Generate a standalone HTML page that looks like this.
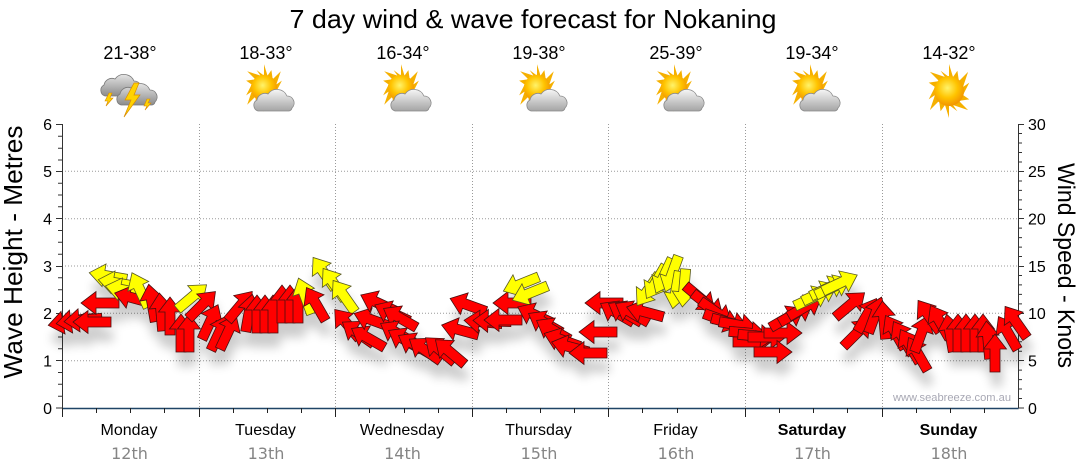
<!DOCTYPE html>
<html><head><meta charset="utf-8"><style>
html,body{margin:0;padding:0;background:#fff}
svg{display:block}
.r{fill:#ff0000;stroke:#4a1010;stroke-width:.8}
.y{fill:#ffff00;stroke:#5a5a20;stroke-width:.8}
.t{font-family:"Liberation Sans",Arial,sans-serif}
.d{font-family:"DejaVu Sans","Liberation Sans",sans-serif}
</style></head><body>
<svg width="1080" height="475" viewBox="0 0 1080 475" xmlns="http://www.w3.org/2000/svg">
<defs>
<path id="a" d="M-19,-5 L4,-5 L4,-11.5 L19,0 L4,11.5 L4,5 L-19,5 Z"/>
<filter id="sh" filterUnits="userSpaceOnUse" x="0" y="200" width="1080" height="260">
<feGaussianBlur in="SourceAlpha" stdDeviation="5"/>
<feOffset dx="2" dy="14"/>
<feComponentTransfer><feFuncA type="linear" slope="0.2"/></feComponentTransfer>
<feMerge><feMergeNode/><feMergeNode in="SourceGraphic"/></feMerge>
</filter>
<radialGradient id="sg" cx="45%" cy="40%" r="60%">
<stop offset="0" stop-color="#fff36a"/><stop offset=".55" stop-color="#ffc400"/><stop offset="1" stop-color="#f29400"/>
</radialGradient>
<linearGradient id="cg" x1="0" y1="0" x2="0" y2="1">
<stop offset="0" stop-color="#f6f6f6"/><stop offset="1" stop-color="#a4a4a4"/>
</linearGradient>
<linearGradient id="cg2" x1="0" y1="0" x2="0" y2="1">
<stop offset="0" stop-color="#e4e4e4"/><stop offset="1" stop-color="#8c8c8c"/>
</linearGradient>
<g id="sun">
<polygon fill="#f5b000" points="0,-27 4,-14 8.4,-20.3 9.9,-9.9 19.1,-19.1 14,-4 20.3,-8.4 14,4 27,0 14,4 20.3,8.4 9.9,9.9 19.1,19.1 4,14 8.4,20.3 0,14 0,27 -4,14 -8.4,20.3 -9.9,9.9 -19.1,19.1 -14,4 -20.3,8.4 -14,-4 -27,0 -14,-4 -20.3,-8.4 -9.9,-9.9 -19.1,-19.1 -4,-14 -8.4,-20.3 0,-14"/>
<circle r="15" fill="url(#sg)"/>
</g>
<path id="cl" d="M4,25 A6,6 0 0 1 3,14 A8,8 0 0 1 14,8 A11,11 0 0 1 33,10 A7,7 0 0 1 38,22 A4,4 0 0 1 35,25 Z"/>
<g id="sc">
<use href="#sun" transform="translate(-3,88) scale(0.88)"/>
<use href="#cl" transform="translate(-13,86)" fill="url(#cg)" stroke="#8a8a8a" stroke-width=".8"/>
</g>
</defs>
<rect width="1080" height="475" fill="#fff"/>

<!-- title -->
<text class="t" x="533" y="28" font-size="26" text-anchor="middle" textLength="487" lengthAdjust="spacingAndGlyphs" fill="#000">7 day wind &amp; wave forecast for Nokaning</text>

<!-- temps -->
<g class="t" font-size="18" text-anchor="middle" fill="#000">
<text x="130" y="59">21-38°</text>
<text x="266" y="59">18-33°</text>
<text x="403" y="59">16-34°</text>
<text x="539" y="59">19-38°</text>
<text x="676" y="59">25-39°</text>
<text x="812" y="59">19-34°</text>
<text x="949" y="59">14-32°</text>
</g>

<!-- icons -->
<g>
<use href="#cl" transform="translate(101,71)" fill="url(#cg2)" stroke="#7a7a7a" stroke-width=".8"/>
<polygon points="109,93 105,101 108,101 106,106 113,98 110,98 112,93" fill="#ffd200" stroke="#d98c00" stroke-width=".6"/>
<use href="#cl" transform="translate(117,80)" fill="url(#cg2)" stroke="#7a7a7a" stroke-width=".8"/>
<polygon points="134,83 125,100 131,100 124,117 140,95 134,95 139,83" fill="#ffd200" stroke="#d98c00" stroke-width=".7"/>
<polygon points="147,99 144,106 147,106 145,110 151,103 148,103 150,99" fill="#ffd200" stroke="#d98c00" stroke-width=".6"/>
</g>
<use href="#sc" transform="translate(267,0)"/>
<use href="#sc" transform="translate(404,0)"/>
<use href="#sc" transform="translate(540,0)"/>
<use href="#sc" transform="translate(677,0)"/>
<use href="#sc" transform="translate(813,0)"/>
<use href="#sun" transform="translate(949,91)"/>

<!-- grid -->
<g stroke="#9a9a9a" stroke-width="1" stroke-dasharray="1 2" fill="none">
<line x1="62" y1="360.7" x2="1018" y2="360.7"/>
<line x1="62" y1="313.3" x2="1018" y2="313.3"/>
<line x1="62" y1="266" x2="1018" y2="266"/>
<line x1="62" y1="218.7" x2="1018" y2="218.7"/>
<line x1="62" y1="171.3" x2="1018" y2="171.3"/>
<line x1="199.5" y1="124" x2="199.5" y2="408"/>
<line x1="335.5" y1="124" x2="335.5" y2="408"/>
<line x1="472.5" y1="124" x2="472.5" y2="408"/>
<line x1="608.5" y1="124" x2="608.5" y2="408"/>
<line x1="745.5" y1="124" x2="745.5" y2="408"/>
<line x1="882.5" y1="124" x2="882.5" y2="408"/>
</g>

<!-- left axis -->
<g stroke="#333" stroke-width="1">
<line x1="62.5" y1="124" x2="62.5" y2="408"/>
<path d="M56,124.5H62M56,171.5H62M56,218.5H62M56,266.5H62M56,313.5H62M56,360.5H62M56,408H62"/>
<path d="M58,136.3H62M58,148.2H62M58,160H62M58,183.2H62M58,195H62M58,206.8H62M58,230.5H62M58,242.3H62M58,254.2H62M58,277.8H62M58,289.7H62M58,301.5H62M58,325.2H62M58,337H62M58,348.8H62M58,372.5H62M58,384.3H62M58,396.2H62"/>
</g>
<g class="t" font-size="16" text-anchor="end" fill="#000">
<text x="52" y="130">6</text>
<text x="52" y="177">5</text>
<text x="52" y="224.5">4</text>
<text x="52" y="272">3</text>
<text x="52" y="319">2</text>
<text x="52" y="366.5">1</text>
<text x="52" y="414">0</text>
</g>
<text class="t" font-size="26" text-anchor="middle" transform="translate(22,252) rotate(-90)" textLength="253" lengthAdjust="spacingAndGlyphs" fill="#000">Wave Height - Metres</text>

<!-- right axis -->
<g stroke="#333" stroke-width="1">
<line x1="1018.5" y1="124" x2="1018.5" y2="408"/>
<path d="M1018,124.5H1024M1018,171.5H1024M1018,218.5H1024M1018,266.5H1024M1018,313.5H1024M1018,360.5H1024M1018,408H1024"/>
<path d="M1018,133.5H1022M1018,143H1022M1018,152.5H1022M1018,162H1022M1018,181H1022M1018,190.4H1022M1018,199.9H1022M1018,209.4H1022M1018,228.1H1022M1018,237.6H1022M1018,247.1H1022M1018,256.5H1022M1018,275.5H1022M1018,284.9H1022M1018,294.4H1022M1018,303.9H1022M1018,322.8H1022M1018,332.3H1022M1018,341.7H1022M1018,351.2H1022M1018,370.1H1022M1018,379.6H1022M1018,389H1022M1018,398.5H1022"/>
</g>
<g class="t" font-size="16" text-anchor="start" fill="#000">
<text x="1028" y="130">30</text>
<text x="1028" y="177">25</text>
<text x="1028" y="224.5">20</text>
<text x="1028" y="272">15</text>
<text x="1028" y="319">10</text>
<text x="1028" y="366.5">5</text>
<text x="1028" y="414">0</text>
</g>
<text class="t" font-size="24" text-anchor="middle" transform="translate(1058,265.5) rotate(90)" textLength="205" lengthAdjust="spacingAndGlyphs" fill="#000">Wind Speed - Knots</text>

<!-- bottom axis -->
<line x1="62" y1="408.5" x2="1018.6" y2="408.5" stroke="#1f4466" stroke-width="1.5"/>
<g stroke="#222" stroke-width="1">
<path d="M62.5,408V417M199.5,408V417M335.5,408V417M472.5,408V417M608.5,408V417M745.5,408V417M882.5,408V417"/>
<path d="M96.5,408V413M130.5,408V413M164.5,408V413M233.5,408V413M267.5,408V413M301.5,408V413M369.5,408V413M404.5,408V413M438.5,408V413M506.5,408V413M540.5,408V413M574.5,408V413M642.5,408V413M677.5,408V413M711.5,408V413M779.5,408V413M813.5,408V413M847.5,408V413M916.5,408V413M950.5,408V413M984.5,408V413"/>
</g>
<g class="t" font-size="16" text-anchor="middle" fill="#000">
<text x="129" y="435">Monday</text>
<text x="265.5" y="435">Tuesday</text>
<text x="402" y="435">Wednesday</text>
<text x="538.5" y="435">Thursday</text>
<text x="675.5" y="435">Friday</text>
<text x="812" y="435" font-weight="bold">Saturday</text>
<text x="948.5" y="435" font-weight="bold">Sunday</text>
</g>
<g class="d" font-size="16" text-anchor="middle" fill="#858585">
<text x="129.5" y="459">12th</text>
<text x="266" y="459">13th</text>
<text x="402.5" y="459">14th</text>
<text x="539" y="459">15th</text>
<text x="676" y="459">16th</text>
<text x="812.5" y="459">17th</text>
<text x="949" y="459">18th</text>
</g>

<text class="t" x="893" y="401" font-size="11" textLength="118" lengthAdjust="spacingAndGlyphs" fill="#a8a8b4">www.seabreeze.com.au</text>

<!-- arrows -->
<g filter="url(#sh)">
<use href="#a" class="r" transform="translate(67,322) rotate(170)"/>
<use href="#a" class="r" transform="translate(75,321) rotate(172)"/>
<use href="#a" class="r" transform="translate(83,320) rotate(175)"/>
<use href="#a" class="r" transform="translate(92,322) rotate(180)"/>
<use href="#a" class="r" transform="translate(100,303) rotate(180)"/>
<use href="#a" class="y" transform="translate(108,276) rotate(190)"/>
<use href="#a" class="y" transform="translate(117,283) rotate(190)"/>
<use href="#a" class="y" transform="translate(124,290) rotate(192)"/>
<use href="#a" class="r" transform="translate(133,298) rotate(195)"/>
<use href="#a" class="y" transform="translate(140,290) rotate(-115)"/>
<use href="#a" class="r" transform="translate(152,303) rotate(-100)"/>
<use href="#a" class="r" transform="translate(161,312) rotate(-95)"/>
<use href="#a" class="r" transform="translate(170,316) rotate(-90)"/>
<use href="#a" class="r" transform="translate(181,333) rotate(-90)"/>
<use href="#a" class="r" transform="translate(189,333) rotate(-90)"/>
<use href="#a" class="y" transform="translate(192,297) rotate(-40)"/>
<use href="#a" class="r" transform="translate(202,305) rotate(-45)"/>

<use href="#a" class="r" transform="translate(210,322) rotate(-65)"/>
<use href="#a" class="r" transform="translate(219,333) rotate(-65)"/>
<use href="#a" class="r" transform="translate(228,332) rotate(-65)"/>
<use href="#a" class="r" transform="translate(240,306) rotate(-50)"/>
<use href="#a" class="r" transform="translate(249,313) rotate(-80)"/>
<use href="#a" class="r" transform="translate(257,314) rotate(-90)"/>
<use href="#a" class="r" transform="translate(265,314) rotate(-90)"/>
<use href="#a" class="r" transform="translate(273,314) rotate(-90)"/>
<use href="#a" class="r" transform="translate(282,304) rotate(-90)"/>
<use href="#a" class="r" transform="translate(290,304) rotate(-90)"/>
<use href="#a" class="r" transform="translate(298,304) rotate(-90)"/>
<use href="#a" class="y" transform="translate(305,296) rotate(-110)"/>
<use href="#a" class="r" transform="translate(316,304) rotate(-120)"/>
<use href="#a" class="y" transform="translate(324,273) rotate(-125)"/>
<use href="#a" class="y" transform="translate(334,284) rotate(-125)"/>
<use href="#a" class="y" transform="translate(344,296) rotate(-125)"/>

<use href="#a" class="r" transform="translate(347,324) rotate(-130)"/>
<use href="#a" class="r" transform="translate(358,333) rotate(-145)"/>
<use href="#a" class="r" transform="translate(368,338) rotate(-150)"/>
<use href="#a" class="r" transform="translate(372,320) rotate(-160)"/>
<use href="#a" class="r" transform="translate(378,303) rotate(-155)"/>
<use href="#a" class="r" transform="translate(392,313) rotate(-155)"/>
<use href="#a" class="r" transform="translate(400,318) rotate(-150)"/>
<use href="#a" class="r" transform="translate(397,333) rotate(-150)"/>
<use href="#a" class="r" transform="translate(405,340) rotate(-150)"/>
<use href="#a" class="r" transform="translate(415,345) rotate(-150)"/>
<use href="#a" class="r" transform="translate(425,350) rotate(-145)"/>
<use href="#a" class="r" transform="translate(440,350) rotate(-140)"/>
<use href="#a" class="r" transform="translate(450,352) rotate(-140)"/>
<use href="#a" class="r" transform="translate(460,330) rotate(-165)"/>
<use href="#a" class="r" transform="translate(468,305) rotate(-160)"/>
<use href="#a" class="r" transform="translate(483,322) rotate(-175)"/>
<use href="#a" class="r" transform="translate(492,321) rotate(-178)"/>

<use href="#a" class="r" transform="translate(503,320) rotate(180)"/>
<use href="#a" class="r" transform="translate(512,303) rotate(180)"/>
<use href="#a" class="y" transform="translate(521,284) rotate(158)"/>
<use href="#a" class="y" transform="translate(530,293) rotate(158)"/>
<use href="#a" class="r" transform="translate(535,315) rotate(-155)"/>
<use href="#a" class="r" transform="translate(545,323) rotate(-150)"/>
<use href="#a" class="r" transform="translate(553,330) rotate(-150)"/>
<use href="#a" class="r" transform="translate(562,340) rotate(-160)"/>
<use href="#a" class="r" transform="translate(570,347) rotate(-165)"/>
<use href="#a" class="r" transform="translate(588,353) rotate(180)"/>
<use href="#a" class="r" transform="translate(598,332) rotate(180)"/>
<use href="#a" class="r" transform="translate(604,303) rotate(180)"/>
<use href="#a" class="r" transform="translate(617,313) rotate(-150)"/>
<use href="#a" class="r" transform="translate(625,313) rotate(-150)"/>
<use href="#a" class="r" transform="translate(632,313) rotate(-150)"/>
<use href="#a" class="r" transform="translate(645,312) rotate(-165)"/>

<use href="#a" class="y" transform="translate(648,290) rotate(125)"/>
<use href="#a" class="y" transform="translate(656,282) rotate(120)"/>
<use href="#a" class="y" transform="translate(664,276) rotate(115)"/>
<use href="#a" class="y" transform="translate(672,274) rotate(110)"/>
<use href="#a" class="y" transform="translate(676,290) rotate(100)"/>
<use href="#a" class="y" transform="translate(684,288) rotate(95)"/>
<use href="#a" class="r" transform="translate(700,298) rotate(40)"/>
<use href="#a" class="r" transform="translate(708,305) rotate(38)"/>
<use href="#a" class="r" transform="translate(716,312) rotate(35)"/>
<use href="#a" class="r" transform="translate(722,320) rotate(20)"/>
<use href="#a" class="r" transform="translate(730,323) rotate(15)"/>
<use href="#a" class="r" transform="translate(738,325) rotate(10)"/>
<use href="#a" class="r" transform="translate(748,333) rotate(5)"/>
<use href="#a" class="r" transform="translate(752,342) rotate(0)"/>
<use href="#a" class="r" transform="translate(757,336) rotate(5)"/>
<use href="#a" class="r" transform="translate(767,337) rotate(0)"/>
<use href="#a" class="r" transform="translate(773,352) rotate(0)"/>
<use href="#a" class="r" transform="translate(783,333) rotate(0)"/>

<use href="#a" class="r" transform="translate(787,318) rotate(-30)"/>
<use href="#a" class="r" transform="translate(796,313) rotate(-30)"/>
<use href="#a" class="r" transform="translate(805,307) rotate(-30)"/>
<use href="#a" class="y" transform="translate(812,298) rotate(-25)"/>
<use href="#a" class="y" transform="translate(820,293) rotate(-25)"/>
<use href="#a" class="y" transform="translate(828,288) rotate(-25)"/>
<use href="#a" class="y" transform="translate(833,287) rotate(-25)"/>
<use href="#a" class="y" transform="translate(840,283) rotate(-25)"/>
<use href="#a" class="r" transform="translate(850,305) rotate(-40)"/>
<use href="#a" class="r" transform="translate(857,333) rotate(-45)"/>
<use href="#a" class="r" transform="translate(867,315) rotate(-60)"/>
<use href="#a" class="r" transform="translate(875,315) rotate(-70)"/>
<use href="#a" class="r" transform="translate(884,320) rotate(-95)"/>

<use href="#a" class="r" transform="translate(895,332) rotate(-120)"/>
<use href="#a" class="r" transform="translate(903,338) rotate(-120)"/>
<use href="#a" class="r" transform="translate(910,346) rotate(-120)"/>
<use href="#a" class="r" transform="translate(918,354) rotate(-120)"/>
<use href="#a" class="r" transform="translate(921,334) rotate(-70)"/>
<use href="#a" class="r" transform="translate(929,316) rotate(-125)"/>
<use href="#a" class="r" transform="translate(940,322) rotate(-120)"/>
<use href="#a" class="r" transform="translate(950,333) rotate(-100)"/>
<use href="#a" class="r" transform="translate(958,333) rotate(-90)"/>
<use href="#a" class="r" transform="translate(966,333) rotate(-90)"/>
<use href="#a" class="r" transform="translate(975,333) rotate(-90)"/>
<use href="#a" class="r" transform="translate(983,333) rotate(-90)"/>
<use href="#a" class="r" transform="translate(988,340) rotate(-95)"/>
<use href="#a" class="r" transform="translate(995,353) rotate(-90)"/>
<use href="#a" class="r" transform="translate(1008,333) rotate(-120)"/>
<use href="#a" class="r" transform="translate(1016,322) rotate(-125)"/>
</g>
</svg>
</body></html>
